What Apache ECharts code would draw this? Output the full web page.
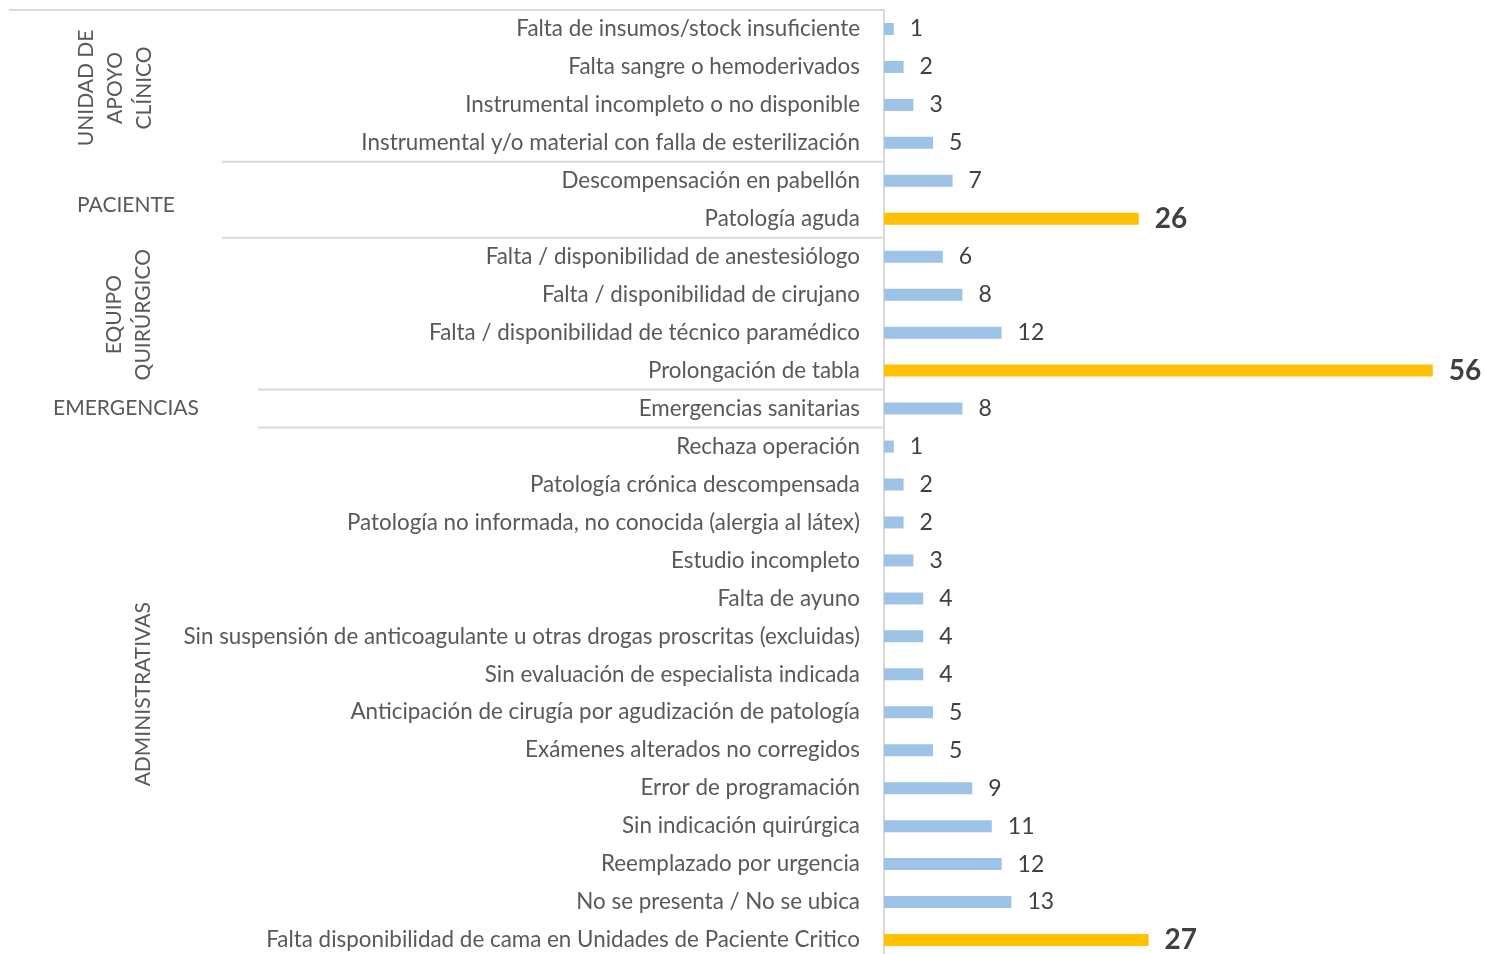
<!DOCTYPE html>
<html>
<head>
<meta charset="utf-8">
<script src="https://cdn.jsdelivr.net/npm/echarts@6/dist/echarts.min.js"></script>
<style>
  html, body { margin:0; padding:0; background:#fff; overflow:hidden; }
  /* a little taller than the window: the last band runs past the bottom edge */
  #chart { width:1485px; height:960px; }
</style>
</head>
<body>
<div id="chart"></div>
<script>
// Causas de suspensión (de arriba hacia abajo)
const categorias = [
  'Falta de insumos/stock insuficiente',
  'Falta sangre o hemoderivados',
  'Instrumental incompleto o no disponible',
  'Instrumental y/o material con falla de esterilización',
  'Descompensación en pabellón',
  'Patología aguda',
  'Falta / disponibilidad de anestesiólogo',
  'Falta / disponibilidad de cirujano',
  'Falta / disponibilidad de técnico paramédico',
  'Prolongación de tabla',
  'Emergencias sanitarias',
  'Rechaza operación',
  'Patología crónica descompensada',
  'Patología no informada, no conocida (alergia al látex)',
  'Estudio incompleto',
  'Falta de ayuno',
  'Sin suspensión de anticoagulante u otras drogas proscritas (excluidas)',
  'Sin evaluación de especialista indicada',
  'Anticipación de cirugía por agudización de patología',
  'Exámenes alterados no corregidos',
  'Error de programación',
  'Sin indicación quirúrgica',
  'Reemplazado por urgencia',
  'No se presenta / No se ubica',
  'Falta disponibilidad de cama en Unidades de Paciente Critico'
];
const valores = [1, 2, 3, 5, 7, 26, 6, 8, 12, 56, 8, 1, 2, 2, 3, 4, 4, 4, 5, 5, 9, 11, 12, 13, 27];
const destacadas = ['Patología aguda', 'Prolongación de tabla',
  'Falta disponibilidad de cama en Unidades de Paciente Critico'];

const grupos = ['UNIDAD DE\nAPOYO\nCLÍNICO', 'PACIENTE', 'EQUIPO\nQUIRÚRGICO', 'EMERGENCIAS', 'ADMINISTRATIVAS'];
const grupoTamanos = [4, 2, 4, 1, 14];

// layout of the group column (Excel multi-level axis look)
const grupoRotado = [true, false, true, false, true];
const grupoX = [115, 126, 129, 126, 143];
const grupoDy = [2, 5, 1, 0, 1];
const lineaInicioX = [9, 222, 222, 258, 258];

const FONT = 'Lato, "Open Sans", sans-serif';
const AZUL = '#9DC3E6', AMARILLO = '#FFC000';
const GRIS_LINEA = '#D9D9D9', TXT = '#595959', TXT_VAL = '#404040';

const chart = echarts.init(document.getElementById('chart'), null, { renderer:'canvas' });

const data = valores.map((v, i) => {
  const hi = destacadas.includes(categorias[i]);
  return {
    value: v,
    itemStyle: { color: hi ? AMARILLO : AZUL },
    label: hi ? { fontWeight:'bold', fontSize:28, color:TXT_VAL } : {}
  };
});

chart.setOption({
  backgroundColor: '#fff',
  animation: false,
  grid: { left:884, top:10, width:588, height:949 },
  xAxis: {
    type:'value', min:0, max:60, show:false
  },
  yAxis: {
    type:'category', inverse:true, data:categorias,
    axisLine:{ show:true, lineStyle:{ color:GRIS_LINEA, width:2 } },
    axisTick:{ show:false },
    axisLabel:{ color:TXT, fontFamily:FONT, fontSize:22.4, margin:24 }
  },
  series: [{
    type:'bar', data, barWidth:12,
    label:{ show:true, position:'right', distance:16,
      fontFamily:FONT, fontSize:23, color:TXT_VAL }
  }]
});

// group separators and group labels, placed from the category scale
function dibujarGrupos() {
  const c0 = chart.convertToPixel({ yAxisIndex:0 }, 0);
  const c1 = chart.convertToPixel({ yAxisIndex:0 }, 1);
  const band = c1 - c0;
  const axisX = chart.convertToPixel({ xAxisIndex:0 }, 0);
  const borde = i => c0 + (i - 0.5) * band;
  const elems = [];
  let inicio = 0;
  grupos.forEach((g, k) => {
    const fin = inicio + grupoTamanos[k];
    elems.push({
      type:'line', silent:true,
      shape:{ x1:lineaInicioX[k], y1:borde(inicio), x2:axisX, y2:borde(inicio) },
      style:{ stroke:GRIS_LINEA, lineWidth:2 }
    });
    const yc = (borde(inicio) + borde(fin)) / 2 + grupoDy[k];
    elems.push({
      type:'text', silent:true,
      x:grupoX[k], y:yc,
      rotation: grupoRotado[k] ? Math.PI / 2 : 0,
      style:{ text:g, fill:TXT, font:'21px ' + FONT, lineHeight:29,
        align:'center', verticalAlign:'middle' }
    });
    inicio = fin;
  });
  chart.setOption({ graphic:{ elements:elems } });
}
dibujarGrupos();
window.addEventListener('resize', () => { chart.resize(); dibujarGrupos(); });
</script>
</body>
</html>
